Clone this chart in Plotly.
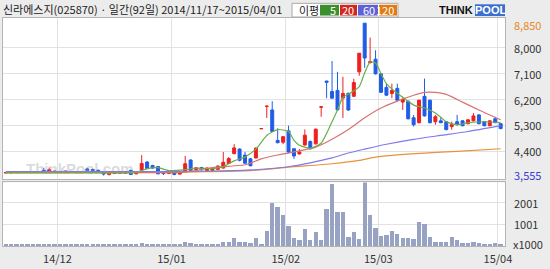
import plotly.graph_objects as go

# ---------------- data ----------------
title_text = "신라에스지(025870) · 일간(92일) 2014/11/17~2015/04/01"

opens = [3650, 3655, 3660, 3665, 3670, 3675, 3680, 3740, 3700, 3690,
         3680, 3690, 3680, 3660, 3670, 3790, 3770, 3740, 3690, 3600,
         3630, 3640, 3640, 3740, 3620, 3750, 4030, 3910, 3870, 3700,
         3630, 3660, 3610, 3700, 4100, 3770, 3840, 3730, 3740, 3775,
         3820, 3980, 4320, 4480, 4270, 4140, 4170, 5185, 5960, 5836,
         4780, 4715, 5110, 4490, 4310, 4620, 4740, 4660, 5935, 6840,
         6480, 6515, 6250, 6414, 6312, 7160, 8850, 7480, 7600, 7090,
         6620, 6410, 6585, 6110, 6140, 5565, 5395, 6310, 6175, 5430,
         5460, 5430, 5260, 5430, 5460, 5360, 5460, 5665, 5430, 5290,
         5530, 5360]
highs = [3680, 3690, 3690, 3700, 3700, 3705, 3710, 3830, 3840, 3730,
         3720, 3730, 3720, 3700, 3720, 3830, 3800, 3770, 3710, 3660,
         3680, 3700, 3680, 3760, 3680, 4270, 4060, 3930, 3880, 3720,
         3690, 3680, 3700, 4240, 4120, 3850, 3860, 3840, 3820, 3910,
         4375, 4200, 4650, 4500, 4380, 4160, 4540, 5190, 5970, 6140,
         5200, 4930, 5290, 4500, 4480, 5160, 4780, 5190, 5945, 6850,
         7535, 7160, 6990, 6440, 6920, 7810, 8850, 8350, 7910, 7120,
         6750, 6750, 6750, 6230, 6160, 5665, 6190, 6925, 6200, 5665,
         5600, 5450, 5430, 5665, 5480, 5520, 5730, 5690, 5450, 5480,
         5600, 5380]
lows = [3630, 3630, 3640, 3640, 3645, 3650, 3655, 3690, 3680, 3660,
        3650, 3660, 3660, 3640, 3650, 3720, 3720, 3700, 3560, 3560,
        3610, 3620, 3620, 3580, 3600, 3720, 3780, 3800, 3600, 3580,
        3610, 3570, 3600, 3680, 3710, 3750, 3740, 3720, 3720, 3760,
        3800, 3960, 4300, 4050, 3980, 3880, 4150, 5180, 5560, 5080,
        4680, 4650, 4350, 4140, 4290, 4600, 4470, 4640, 5600, 6245,
        6240, 5830, 5560, 5810, 6290, 7025, 7300, 7450, 7070, 6430,
        6330, 6245, 6150, 5836, 5510, 5260, 5370, 5610, 5370, 5325,
        5380, 5130, 5155, 5300, 5270, 5340, 5440, 5340, 5270, 5270,
        5380, 5170]
closes = [3665, 3670, 3675, 3680, 3685, 3690, 3690, 3700, 3760, 3710,
          3700, 3710, 3700, 3680, 3700, 3740, 3730, 3710, 3610, 3640,
          3660, 3680, 3670, 3600, 3660, 3980, 3800, 3820, 3620, 3630,
          3670, 3600, 3680, 3970, 3730, 3830, 3760, 3820, 3800, 3890,
          4020, 4150, 4520, 4090, 3990, 3900, 4510, 5190, 5970, 5090,
          4700, 4910, 4375, 4240, 4375, 4960, 4490, 5170, 5945, 6800,
          6245, 5840, 6410, 5836, 6787, 7806, 7640, 7510, 7090, 6450,
          6350, 6515, 6175, 6210, 5530, 5325, 6175, 5630, 5395, 5600,
          5395, 5155, 5325, 5325, 5290, 5495, 5630, 5360, 5290, 5460,
          5395, 5190]
volumes = [50, 40, 45, 55, 40, 50, 45, 60, 70, 45,
           40, 50, 45, 40, 90, 55, 50, 45, 60, 55,
           45, 40, 50, 60, 80, 110, 80, 50, 55, 45,
           40, 50, 55, 190, 120, 60, 50, 55, 50, 60,
           180, 150, 360, 150, 150, 120, 360, 80, 690, 2000,
           1800, 1410, 890, 360, 240, 770, 240, 650, 240, 1700,
           2850, 1560, 1560, 390, 620, 320, 3300, 1440, 810, 430,
           490, 690, 540, 360, 360, 320, 1100, 1010, 390, 150,
           150, 180, 390, 260, 110, 110, 180, 110, 80, 80,
           110, 60]

ma5_idx = [0, 20, 24, 26, 28, 30, 33, 35, 38, 40, 42, 44, 46, 48, 50, 52, 53, 54,
           56, 58, 59, 60, 61, 62, 63, 65, 66, 67, 68, 69, 70, 72, 74, 75, 77, 79,
           81, 83, 85, 88, 91]
ma5_val = [3662, 3662, 3679, 3798, 3832, 3730, 3764, 3815, 3798, 3866, 4070, 4206,
           4477, 4953, 5157, 5089, 4783, 4613, 4511, 4681, 5021, 5428, 5836, 6278,
           6380, 6650, 7130, 7500, 7467, 7093, 6753, 6414, 6142, 6006, 5904, 5734,
           5428, 5326, 5394, 5428, 5394]
ma20_idx = [0, 30, 33, 38, 44, 47, 50, 52, 57, 60, 63, 66, 69, 72, 75, 77, 79, 81,
            84, 87, 91]
ma20_val = [3662, 3662, 3679, 3832, 3934, 4138, 4274, 4341, 4545, 4817, 5157, 5564,
            5904, 6142, 6346, 6448, 6448, 6380, 6108, 5836, 5496]
ma60_idx = [0, 30, 42, 45, 52, 56, 60, 63, 66, 70, 75, 80, 85, 91]
ma60_val = [3696, 3696, 3730, 3754, 3866, 4002, 4172, 4342, 4477, 4647, 4817, 4953,
            5089, 5293]
ma120_idx = [0, 20, 35, 45, 52, 60, 65, 68, 72, 77, 83, 91]
ma120_val = [3650, 3660, 3690, 3730, 3850, 3970, 4085, 4200, 4275, 4340, 4400, 4490]

month_pos = [9.5, 30.5, 51.5, 68.5, 90.5]
month_labels = ["14/12", "15/01", "15/02", "15/03", "15/04"]
price_ticks = [8000, 7100, 6200, 5300, 4400]
price_hi = 8850
price_lo = 3555
vol_ticks = [1001, 2001]
legend_items = ["5", "20", "60", "120"]

# ---------------- styling / layout helpers ----------------
W, H = 550, 269
ML, MR, MT, MB = 3, 45, 18, 18
PW, PH = W - ML - MR, H - MT - MB
FONT = "Noto Sans CJK KR, Noto Sans, sans-serif"

def fx(px):
    return (px - ML) / PW

def fy(py):
    return (H - MB - py) / PH

idx = list(range(len(opens)))
C_UP, C_DN = "#f01e1e", "#1f5de6"
ma_colors = ["#6aae48", "#d97272", "#7f7ae8", "#e8923a"]
legend_colors = ["#3d8f2e", "#d0281e", "#5f5fd6", "#e07a12"]

fig = go.Figure()

fig.add_trace(go.Bar(x=idx, y=volumes, marker=dict(color="#98a3c3", line=dict(width=0)),
                     width=0.8, xaxis="x2", yaxis="y2", showlegend=False, hoverinfo="skip"))

fig.add_trace(go.Candlestick(
    x=idx, open=opens, high=highs, low=lows, close=closes,
    increasing=dict(line=dict(color=C_UP, width=1), fillcolor=C_UP),
    decreasing=dict(line=dict(color=C_DN, width=1), fillcolor=C_DN),
    whiskerwidth=0, xaxis="x", yaxis="y", showlegend=False, hoverinfo="skip"))

for (mx, my), col in zip([(ma120_idx, ma120_val), (ma60_idx, ma60_val),
                          (ma20_idx, ma20_val), (ma5_idx, ma5_val)],
                         [ma_colors[3], ma_colors[2], ma_colors[1], ma_colors[0]]):
    fig.add_trace(go.Scatter(x=mx, y=my, mode="lines",
                             line=dict(color=col, width=1.2, shape="spline", smoothing=0.6),
                             xaxis="x", yaxis="y", showlegend=False, hoverinfo="skip"))

# y range for price panel (pixel rows 18..183)
y_top = 8000 + (48.3 - 18) * 33.97
y_bot = 8000 - (183 - 48.3) * 33.97

axis_common = dict(showline=True, mirror=True, linecolor="#b4b4b4", linewidth=1,
                   zeroline=False, gridcolor="#e2e2e2", gridwidth=1, fixedrange=True)

fig.update_layout(
    width=W, height=H,
    margin=dict(l=ML, r=MR, t=MT, b=MB, pad=0),
    paper_bgcolor="#ececec", plot_bgcolor="#ffffff",
    font=dict(family=FONT, size=11, color="#333333"),
    bargap=0, boxgap=0.22,
    xaxis=dict(domain=[0, 1], anchor="y", range=[-0.5, 91.8], tickvals=month_pos,
               showticklabels=False, showgrid=True, rangeslider=dict(visible=False), **axis_common),
    yaxis=dict(domain=[fy(183), 1], anchor="x", range=[y_bot, y_top], tickvals=price_ticks,
               showticklabels=False, showgrid=True, **axis_common),
    xaxis2=dict(domain=[0, 1], anchor="y2", range=[-0.5, 91.8], tickvals=month_pos,
                ticktext=month_labels, showticklabels=True, showgrid=True,
                tickfont=dict(size=11, color="#333333"), ticks="", ticklabelstandoff=3,
                **axis_common),
    yaxis2=dict(domain=[0, fy(186)], anchor="x2", range=[0, 2955], tickvals=vol_ticks,
                showticklabels=False, showgrid=True, **axis_common),
)

ann = []
# right-side price labels
for v in price_ticks:
    ann.append(dict(x=1, xref="paper", y=v, yref="y", text=f"{v:,}", showarrow=False,
                    xanchor="left", yanchor="middle", xshift=7, font=dict(size=11, color="#333333")))
ann.append(dict(x=1, xref="paper", y=price_hi, yref="y", text=f"{price_hi:,}", showarrow=False,
                xanchor="left", yanchor="middle", xshift=7, yshift=-2, font=dict(size=11, color="#e8892a")))
ann.append(dict(x=1, xref="paper", y=price_lo, yref="y", text=f"{price_lo:,}", showarrow=False,
                xanchor="left", yanchor="middle", xshift=7, yshift=1, font=dict(size=11, color="#3b3bd6")))
for v in vol_ticks:
    ann.append(dict(x=1, xref="paper", y=v, yref="y2", text=str(v), showarrow=False,
                    xanchor="left", yanchor="middle", xshift=7, font=dict(size=11, color="#333333")))
ann.append(dict(x=1, xref="paper", y=0, yref="y2", text="x1000", showarrow=False,
                xanchor="left", yanchor="middle", xshift=6, yshift=2, font=dict(size=11, color="#333333")))

# header title
ann.append(dict(x=fx(1), xref="paper", y=fy(9), yref="paper", text=title_text, showarrow=False,
                xanchor="left", yanchor="middle", font=dict(size=11, color="#222222")))

# watermark
ann.append(dict(x=fx(80), xref="paper", y=fy(172), yref="paper", text="<b>ThinkPool.com</b>",
                showarrow=False, xanchor="center", yanchor="middle",
                font=dict(size=15, color="rgba(150,150,150,0.35)", family="Arial, Liberation Sans")))

shapes = []
# legend box
shapes.append(dict(type="rect", xref="paper", yref="paper", x0=fx(292), x1=fx(398), y0=fy(17), y1=fy(3),
                   line=dict(color="#a8a8a8", width=1), fillcolor="#ffffff", layer="above"))
ann.append(dict(x=fx(297), xref="paper", y=fy(10), yref="paper", text="이평", showarrow=False,
                xanchor="left", yanchor="middle", font=dict(size=11, color="#222222")))
box_px = [(320, 339), (340, 357), (358, 378), (379, 397)]
for (a, b), col, lab in zip(box_px, legend_colors, legend_items):
    shapes.append(dict(type="rect", xref="paper", yref="paper", x0=fx(a), x1=fx(b), y0=fy(15.5), y1=fy(4.5),
                       line=dict(width=0), fillcolor=col, layer="above"))
    ann.append(dict(x=fx(b - 1), xref="paper", y=fy(10), yref="paper", text=lab, showarrow=False,
                    xanchor="right", yanchor="middle", font=dict(size=11, color="#ffffff")))

# THINKPOOL logo
shapes.append(dict(type="rect", xref="paper", yref="paper", x0=fx(475), x1=fx(505), y0=fy(16), y1=fy(4),
                   line=dict(width=0), fillcolor="#3a6fcf", layer="above"))
ann.append(dict(x=fx(475), xref="paper", y=fy(10), yref="paper", text="<b>THINK</b>", showarrow=False,
                xanchor="right", yanchor="middle",
                font=dict(size=11, color="#111111", family="Arial, Liberation Sans")))
ann.append(dict(x=fx(490), xref="paper", y=fy(10), yref="paper", text="<b>POOL</b>", showarrow=False,
                xanchor="center", yanchor="middle",
                font=dict(size=11, color="#ffffff", family="Arial, Liberation Sans")))

fig.update_layout(annotations=ann, shapes=shapes)

fig.write_html("out.html")
